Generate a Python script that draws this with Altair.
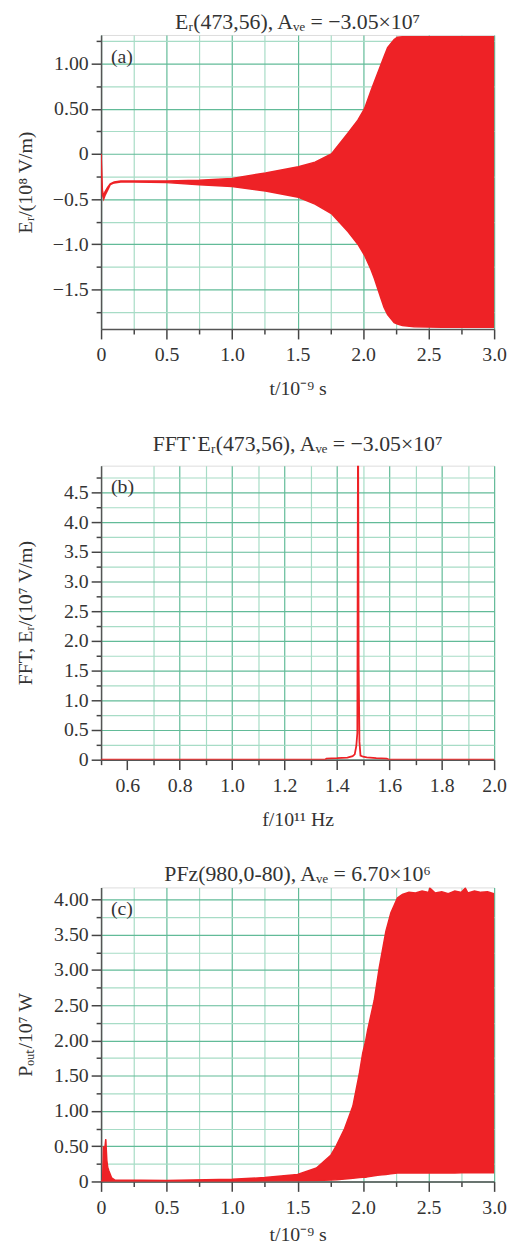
import altair as alt
import pandas as pd

# ---------------- data ----------------
# Panel (a): E_r envelope
ta = [0, 0.005, 0.01, 0.02, 0.03, 0.05, 0.07, 0.1, 0.15, 0.25, 0.5, 0.75, 1.0, 1.255,
      1.506, 1.633, 1.758, 1.884, 1.96, 2.01, 2.06, 2.086, 2.136, 2.16, 2.187, 2.237,
      2.262, 2.30, 2.39, 2.6, 3.0]
a_hi = [0, -0.2, -0.4, -0.47, -0.42, -0.37, -0.33, -0.31, -0.30, -0.30, -0.30, -0.29,
        -0.27, -0.21, -0.14, -0.09, 0.0, 0.23, 0.375, 0.5, 0.70, 0.80, 0.99, 1.08, 1.18,
        1.27, 1.295, 1.30, 1.30, 1.30, 1.30]
a_lo = [0, -0.25, -0.45, -0.50, -0.46, -0.40, -0.34, -0.32, -0.31, -0.31, -0.317, -0.34,
        -0.36, -0.41, -0.48, -0.555, -0.66, -0.86, -1.0, -1.12, -1.28, -1.38, -1.60,
        -1.70, -1.78, -1.87, -1.885, -1.90, -1.915, -1.92, -1.92]

# Panel (b): FFT spectrum
fb = [0.5, 1.0, 1.3, 1.355, 1.36, 1.40, 1.44, 1.46, 1.468, 1.474, 1.478, 1.4807, 1.483,
      1.486, 1.49, 1.50, 1.514, 1.55, 1.59, 1.60, 1.65, 2.0]
b_val = [0.0, 0.0, 0.0, 0.0, 0.02, 0.025, 0.035, 0.06, 0.09, 0.23, 0.45, 6.0, 1.6, 0.3,
         0.07, 0.05, 0.04, 0.025, 0.02, 0.0, 0.0, 0.0]

# Panel (c): P_out envelope
tc = [0, 0.012, 0.018, 0.026, 0.036, 0.044, 0.051, 0.06, 0.081, 0.106, 0.5, 1.0, 1.25,
      1.5, 1.644, 1.753, 1.796, 1.859, 1.922, 1.972, 1.997, 2.02, 2.035, 2.085, 2.123,
      2.174, 2.212, 2.262, 2.30, 2.35, 2.40, 2.45, 2.50, 2.51, 2.55, 2.60, 2.65, 2.70,
      2.75, 2.78, 2.80, 2.85, 2.90, 2.95, 3.0]
c_hi = [0, 0.02, 0.50, 0.42, 0.60, 0.30, 0.20, 0.15, 0.05, 0.02, 0.015, 0.03, 0.055,
        0.10, 0.19, 0.37, 0.51, 0.75, 1.07, 1.54, 1.82, 2.0, 2.15, 2.57, 3.03, 3.55,
        3.81, 4.02, 4.07, 4.10, 4.09, 4.12, 4.10, 4.16, 4.09, 4.11, 4.08, 4.12, 4.10,
        4.16, 4.09, 4.12, 4.10, 4.11, 4.08]
c_lo = [0, 0, 0, 0, 0, 0, 0, 0, 0, 0, 0.0, 0.0, 0.005, 0.01, 0.012, 0.02, 0.025, 0.035,
        0.045, 0.055, 0.06, 0.06, 0.065, 0.08, 0.09, 0.10, 0.11, 0.12, 0.12, 0.12, 0.12,
        0.12, 0.12, 0.12, 0.12, 0.12, 0.12, 0.12, 0.125, 0.125, 0.125, 0.125, 0.125,
        0.125, 0.125]

# tick values
xa_ticks = [0, 0.25, 0.5, 0.75, 1.0, 1.25, 1.5, 1.75, 2.0, 2.25, 2.5, 2.75, 3.0]
ya_ticks = [-1.75, -1.5, -1.25, -1.0, -0.75, -0.5, -0.25, 0, 0.25, 0.5, 0.75, 1.0, 1.25]
xb_ticks = [0.5, 0.6, 0.7, 0.8, 0.9, 1.0, 1.1, 1.2, 1.3, 1.4, 1.5, 1.6, 1.7, 1.8, 1.9, 2.0]
yb_ticks = [0, 0.25, 0.5, 0.75, 1.0, 1.25, 1.5, 1.75, 2.0, 2.25, 2.5, 2.75, 3.0, 3.25,
            3.5, 3.75, 4.0, 4.25, 4.5, 4.75]
yc_ticks = [0, 0.25, 0.5, 0.75, 1.0, 1.25, 1.5, 1.75, 2.0, 2.25, 2.5, 2.75, 3.0, 3.25,
            3.5, 3.75, 4.0]

titles = ["Eᵣ(473,56),  Aᵥₑ = −3.05×10⁷",
          "FFT˙Eᵣ(473,56),  Aᵥₑ = −3.05×10⁷",
          "PFz(980,0-80),  Aᵥₑ = 6.70×10⁶"]
panel_tags = ["(a)", "(b)", "(c)"]

# ---------------- style ----------------
RED = "#ee2226"
FONT = "Liberation Serif"
GRID_MAJ = "#62bb98"
GRID_MIN = "#a7dcc6"
W, H = 397, 297


def axis(values, major_test, label_expr, title, grid_hide=None, extent=None, tpad=12):
    kw = dict(
        values=values,
        labelExpr=label_expr,
        title=title,
        grid=True,
        gridColor={"condition": {"test": major_test, "value": GRID_MAJ}, "value": GRID_MIN},
        gridWidth=1.2,
        tickSize={"condition": {"test": major_test, "value": 10}, "value": 5},
        tickColor="#444444",
        tickWidth=1.5,
        domainColor="#555555",
        domainWidth=1.5,
        labelFont=FONT,
        labelFontSize=20,
        labelColor="#333333",
        titleFont=FONT,
        titleFontSize=20,
        titleFontWeight="normal",
        titleColor="#333333",
        labelOverlap=False,
        labelFlush=False,
    )
    if grid_hide is not None:
        kw["gridOpacity"] = {"condition": {"test": grid_hide, "value": 0}, "value": 1}
    if extent is not None:
        kw["minExtent"] = extent
        kw["maxExtent"] = extent
        kw["titlePadding"] = 10
        kw["labelPadding"] = 3
    else:
        kw["titlePadding"] = tpad
        kw["labelPadding"] = 6
    return alt.Axis(**kw)


def tag(text):
    return alt.Chart(pd.DataFrame({"t": [text]})).mark_text(
        font=FONT, fontSize=20, color="#333333", align="left", baseline="middle"
    ).encode(x=alt.value(10), y=alt.value(22), text="t:N")


def ttl(text, off):
    return alt.TitleParams(text, font=FONT, fontSize=22, fontWeight="normal",
                           color="#333333", offset=off)


maj4 = "abs(round(datum.value*4))%2==0"
maj10 = "abs(round(datum.value*10))%2==0"

# ---- panel (a)
dfa = pd.DataFrame({"t": ta, "lo": a_lo, "hi": a_hi})
xa = alt.X("t:Q", scale=alt.Scale(domain=[0, 3], nice=False, zero=False),
           axis=axis(xa_ticks, maj4,
                     f"{maj4} ? (datum.value==0 ? '0' : format(datum.value,'.1f')) : ''",
                     "t/10⁻⁹ s", tpad=14))
ya = alt.Y("lo:Q", scale=alt.Scale(domain=[-1.94, 1.32], nice=False, zero=False),
           axis=axis(ya_ticks, maj4,
                     f"{maj4} ? (datum.value==0 ? '0' : datum.value>0 ? format(datum.value,'.2f') : format(datum.value,'.1f')) : ''",
                     "Eᵣ/(10⁸ V/m)", extent=56))
area_a = alt.Chart(dfa).mark_area(color=RED, stroke=RED, strokeWidth=1.5, opacity=1, clip=True).encode(
    x=xa, y=ya, y2="hi:Q")
chart_a = alt.layer(area_a, tag(panel_tags[0])).properties(width=W, height=H, title=ttl(titles[0], -3))

# ---- panel (b)
dfb = pd.DataFrame({"f": fb, "v": b_val})
xb = alt.X("f:Q", scale=alt.Scale(domain=[0.5, 2.0], nice=False, zero=False),
           axis=axis(xb_ticks, maj10,
                     f"{maj10} ? format(datum.value,'.1f') : ''",
                     "f/10¹¹ Hz", grid_hide="abs(round(datum.value*10)-6)<0.5", tpad=14))
yb = alt.Y("v:Q", scale=alt.Scale(domain=[0, 4.95], nice=False, zero=False),
           axis=axis(yb_ticks, maj4,
                     f"{maj4} ? (datum.value==0 ? '0' : format(datum.value,'.1f')) : ''",
                     "FFT, Eᵣ/(10⁷ V/m)", extent=56))
line_b = alt.Chart(dfb).mark_line(color=RED, strokeWidth=1.8, clip=True).encode(x=xb, y=yb)
chart_b = alt.layer(line_b, tag(panel_tags[1])).properties(width=W, height=H, title=ttl(titles[1], 10))

# ---- panel (c)
dfc = pd.DataFrame({"t": tc, "lo": c_lo, "hi": c_hi})
xc = alt.X("t:Q", scale=alt.Scale(domain=[0, 3], nice=False, zero=False),
           axis=axis(xa_ticks, maj4,
                     f"{maj4} ? (datum.value==0 ? '0' : format(datum.value,'.1f')) : ''",
                     "t/10⁻⁹ s", tpad=8))
yc = alt.Y("lo:Q", scale=alt.Scale(domain=[0, 4.17], nice=False, zero=False),
           axis=axis(yc_ticks, maj4,
                     f"{maj4} ? (datum.value==0 ? '0' : format(datum.value,'.2f')) : ''",
                     "Pₒᵤₜ/10⁷ W", extent=56))
area_c = alt.Chart(dfc).mark_area(color=RED, stroke=RED, strokeWidth=1.5, opacity=1, clip=True).encode(
    x=xc, y=yc, y2="hi:Q")
chart_c = alt.layer(area_c, tag(panel_tags[2])).properties(width=W, height=H, title=ttl(titles[2], 1))

chart = alt.vconcat(chart_a, chart_b, chart_c, spacing=33).properties(
    padding={"top": -4, "left": 7, "right": 0, "bottom": 0}
).configure_view(stroke="#444444", strokeWidth=1.5).configure(background="white")

chart.save("out.html", embed_options={"renderer": "svg", "actions": False})
